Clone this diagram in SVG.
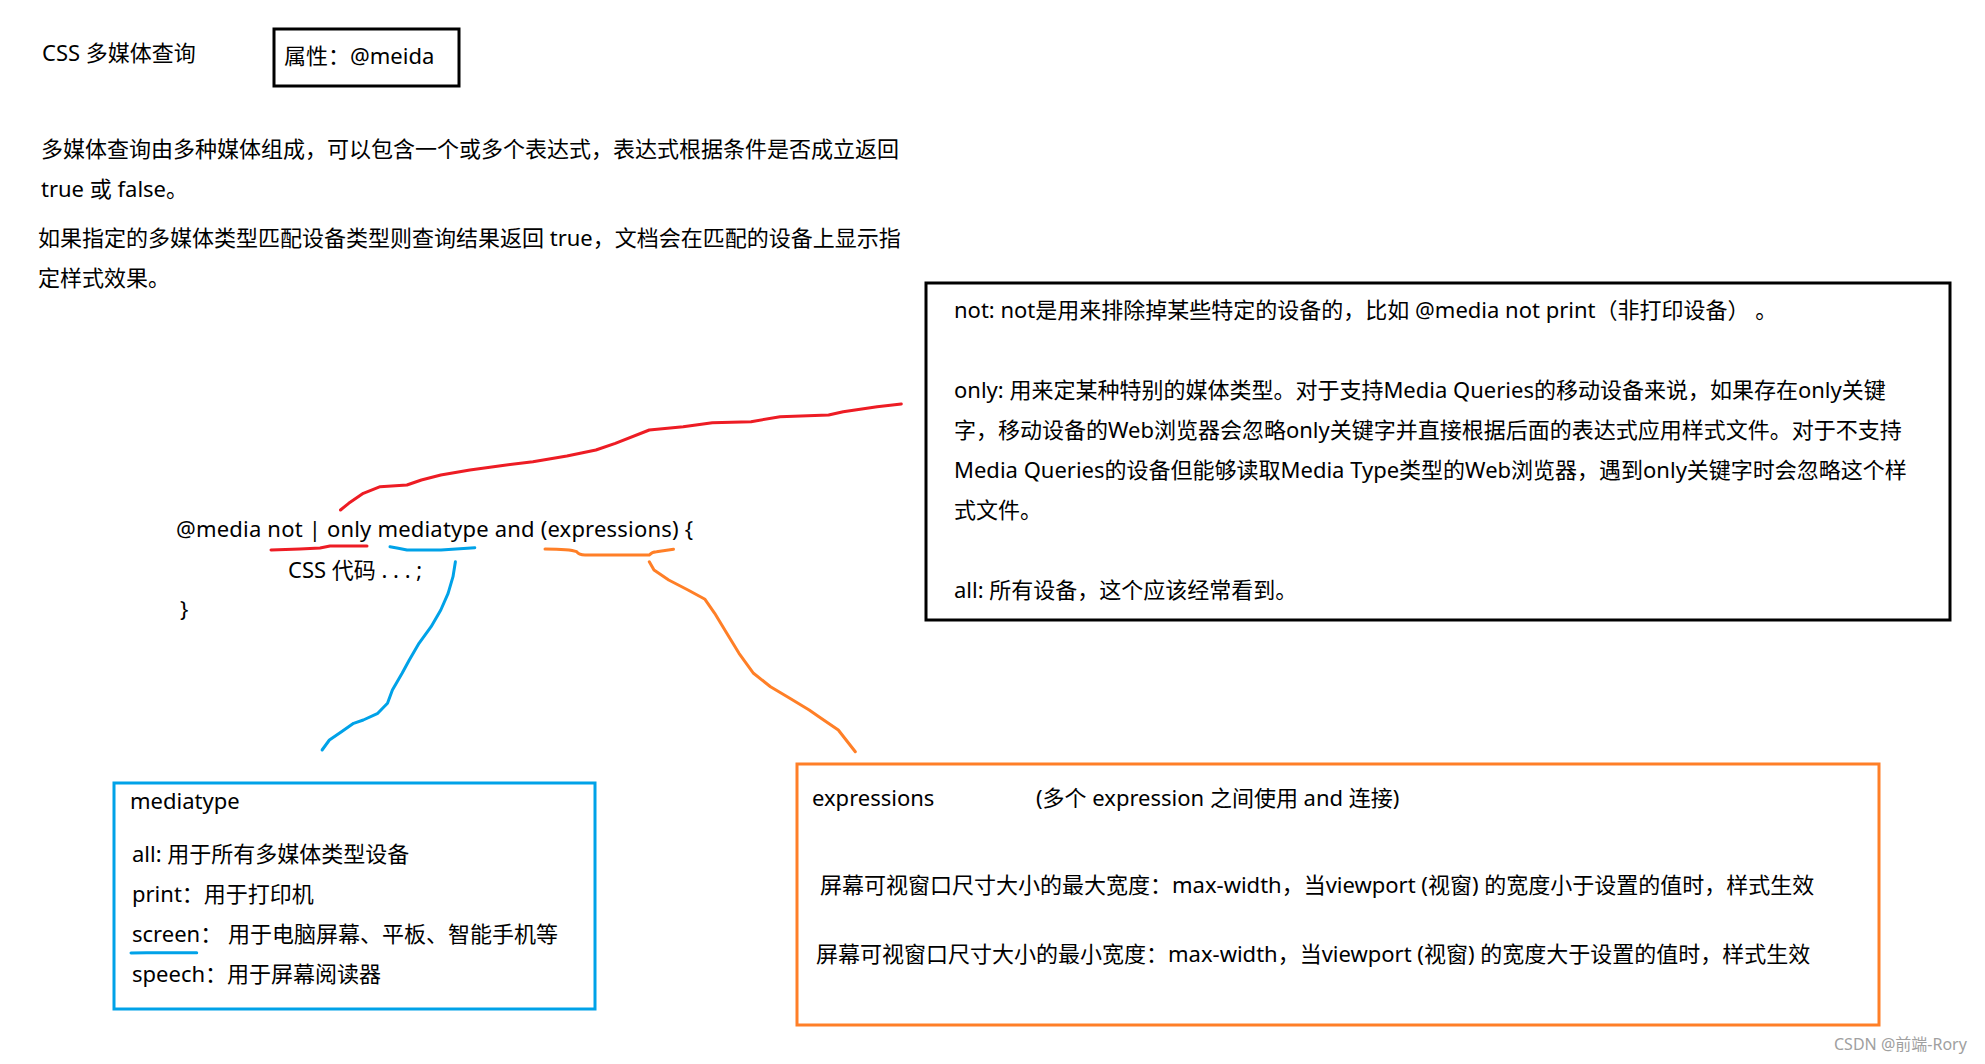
<svg xmlns="http://www.w3.org/2000/svg" width="1985" height="1064" viewBox="0 0 1985 1064">
<style>
text{font-family:"Noto Sans","Noto Sans CJK SC",sans-serif;font-size:22px;fill:#000}
.box{fill:none;stroke-width:3}
.k{stroke:#000}
.b{stroke:#00a2e8}
.o{stroke:#ff7f27}
.ink{fill:none;stroke-width:3;stroke-linecap:round;stroke-linejoin:round}
.wm{font-size:16px;fill:#a0a0a0}
</style>
<rect width="1985" height="1064" fill="#fff"/>
<g id="title"><text x="42" y="61">CSS 多媒体查询</text></g>
<g id="attr-box"><rect class="box k" x="274" y="29" width="185" height="57"/><text x="284" y="64">属性：@meida</text></g>
<g id="description">
<text x="41" y="157">多媒体查询由多种媒体组成，可以包含一个或多个表达式，表达式根据条件是否成立返回</text>
<text x="41" y="197">true 或 false。</text>
<text x="38" y="246">如果指定的多媒体类型匹配设备类型则查询结果返回 true，文档会在匹配的设备上显示指</text>
<text x="38" y="286">定样式效果。</text>
</g>
<g id="notes-box">
<rect class="box k" x="926" y="283" width="1024" height="337"/>
<text x="954" y="318">not: not是用来排除掉某些特定的设备的，比如 @media not print（非打印设备） 。</text>
<text x="954" y="398">only: 用来定某种特别的媒体类型。对于支持Media Queries的移动设备来说，如果存在only关键</text>
<text x="954" y="438">字，移动设备的Web浏览器会忽略only关键字并直接根据后面的表达式应用样式文件。对于不支持</text>
<text x="954" y="478">Media Queries的设备但能够读取Media Type类型的Web浏览器，遇到only关键字时会忽略这个样</text>
<text x="954" y="518">式文件。</text>
<text x="954" y="598">all: 所有设备，这个应该经常看到。</text>
</g>
<g id="code">
<text x="176" y="537" textLength="517" lengthAdjust="spacing">@media not | only mediatype and (expressions) {</text>
<text x="288" y="578">CSS 代码 . . . ;</text>
<text x="180" y="617">}</text>
</g>
<g id="mediatype-box">
<rect class="box b" x="114" y="783" width="481" height="226"/>
<text x="130" y="809">mediatype</text>
<text x="132" y="862">all: 用于所有多媒体类型设备</text>
<text x="132" y="902">print：用于打印机</text>
<text x="132" y="942">screen： 用于电脑屏幕、平板、智能手机等</text>
<text x="132" y="982">speech：用于屏幕阅读器</text>
</g>
<g id="expressions-box">
<rect class="box o" x="797" y="764" width="1082" height="261"/>
<text x="812" y="806">expressions</text>
<text x="1036" y="806">(多个 expression 之间使用 and 连接)</text>
<text x="820" y="893">屏幕可视窗口尺寸大小的最大宽度：max-width，当viewport (视窗) 的宽度小于设置的值时，样式生效</text>
<text x="816" y="962">屏幕可视窗口尺寸大小的最小宽度：max-width，当viewport (视窗) 的宽度大于设置的值时，样式生效</text>
</g>
<g id="connectors">
<path class="ink" stroke="#ed1c24" d="M271,550 L300,549 L320,548 L330,546 L367,546"/>
<path class="ink" stroke="#ed1c24" d="M340.5,510 L348.7,503.3 L363.3,493.3 L380.2,486.7 L406.9,485 L421.4,480 L440.8,475 L469.9,470 L499,466 L532.9,461.7 L566.9,456 L595.9,450 L615.3,443.3 L649.3,430 L683.2,426.7 L712.3,422.7 L751,421.7 L780.1,416.7 L828.6,415 L843.2,411.7 L877.1,406.7 L901.3,404"/>
<path class="ink" stroke="#00a2e8" d="M390,546.7 Q398,548 407,550 L441,550 L474.8,547.7"/>
<path class="ink" stroke="#00a2e8" d="M455.4,561.7 L453,576.7 L448.1,593.3 L440.8,610 L431.1,626.7 L419,643.3 L409.3,660 L402.1,673.3 L392.4,690 L387.5,703.3 L377.8,713.3 L363.3,720 L353.6,723.3 L341.5,731.7 L329.4,740 L322.1,750"/>
<path class="ink" stroke="#ff7f27" d="M545,549 Q570,549 576.6,551.7 Q579,555 585,555 L649.3,555 Q652,552 656.5,551.7 L673.5,549.3"/>
<path class="ink" stroke="#ff7f27" d="M649.3,561.7 L654,570 L668.7,580 L688,590 L705,599.3 L714.7,613.3 L726.8,633.3 L739,653.3 L753.5,673.3 L770.5,686.7 L789.8,698.3 L809.2,710 L818.9,716.7 L838.3,730 L855.3,751.7"/>
<path class="ink" stroke="#00a2e8" d="M131,953 Q142,952.5 153,952.7 L196.7,952.7"/>
</g>
<g id="watermark"><text class="wm" x="1834" y="1050">CSDN @前端-Rory</text></g>
</svg>
